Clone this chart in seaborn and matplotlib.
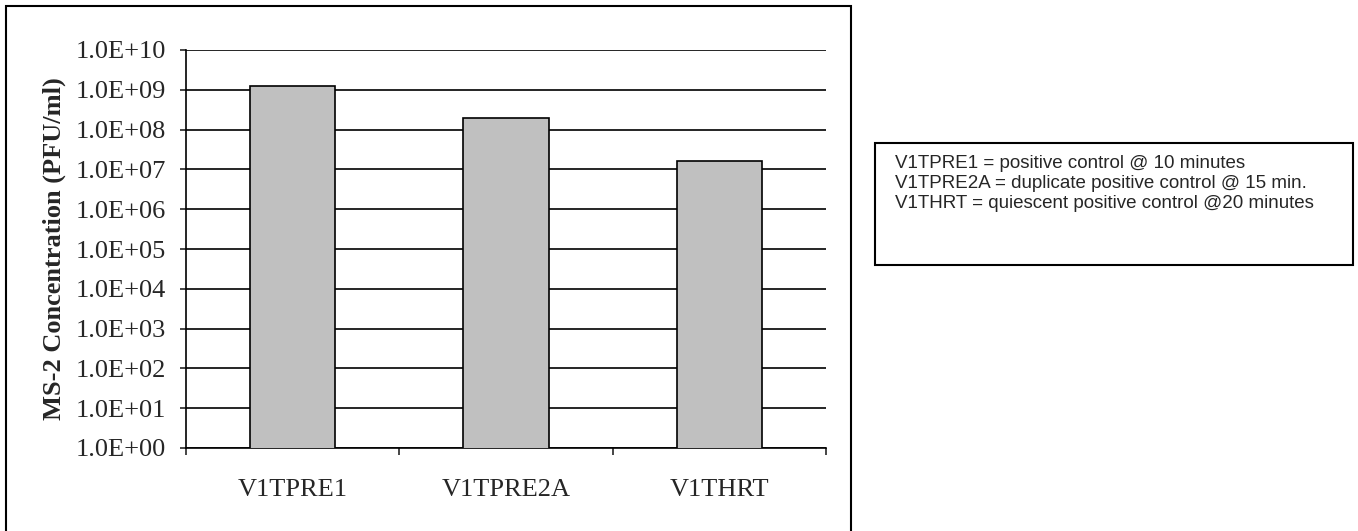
import matplotlib
matplotlib.use("Agg")
import matplotlib.pyplot as plt
import matplotlib.ticker as mticker
from matplotlib.patches import Rectangle
import seaborn as sns
import pandas as pd

# dados
amostras = ['V1TPRE1', 'V1TPRE2A', 'V1THRT']
concentracao = [1.26e9, 2.0e8, 1.6e7]
legenda = ['V1TPRE1 = positive control @ 10 minutes',
           'V1TPRE2A = duplicate positive control @ 15 min.',
           'V1THRT = quiescent positive control @20 minutes']

df = pd.DataFrame({'amostra': amostras, 'conc': concentracao})

sns.set_style('white')
plt.rcParams['font.family'] = ['Liberation Serif', 'DejaVu Serif']

fig = plt.figure(figsize=(13.58, 5.31), dpi=100)
ax = fig.add_axes([186/1358, 1 - 448/531, 640/1358, 398/531])
ax.set_yscale('log')

sns.barplot(data=df, x='amostra', y='conc', ax=ax, color='#C0C0C0',
            edgecolor='black', linewidth=1.2, width=0.4, saturation=1, zorder=3)

ax.set_ylim(1, 1e10)
ax.set_xlim(-0.5, 2.5)
ax.yaxis.set_major_locator(mticker.LogLocator(base=10, numticks=20))
ax.yaxis.set_minor_locator(mticker.NullLocator())
ax.yaxis.set_major_formatter(mticker.FuncFormatter(lambda v, p: f'{v:.1E}'))
ax.grid(True, axis='y', color='black', linewidth=1.2, zorder=0)
ax.set_axisbelow(True)

# ticks do eixo x nas divisões das categorias
ax.set_xticks([0, 1, 2])
ax.set_xticklabels(amostras)
ax.set_xticks([-0.5, 0.5, 1.5, 2.5], minor=True)
ax.tick_params(axis='x', which='major', length=0, labelsize=19, pad=22)
ax.tick_params(axis='x', which='minor', length=5, width=1.2, direction='out', bottom=True)
ax.tick_params(axis='y', which='major', length=4.5, width=1.2, direction='out', left=True,
               labelsize=19, pad=10)

for s in ['top', 'right']:
    ax.spines[s].set_visible(False)
for s in ['left', 'bottom']:
    ax.spines[s].set_color('black')
    ax.spines[s].set_linewidth(1.2)

ax.set_xlabel('')
ax.set_ylabel('MS-2 Concentration (PFU/ml)', fontsize=19, fontweight='bold', labelpad=7)

# moldura do gráfico (borda inferior cortada) e caixa de texto
fig.patches.append(Rectangle((5.5/1358, 1 - 534/531), 845/1358, 528/531, transform=fig.transFigure,
                             fill=False, edgecolor='black', linewidth=1.5))
fig.patches.append(Rectangle((875/1358, 1 - 265/531), 478/1358, 122/531, transform=fig.transFigure,
                             fill=False, edgecolor='black', linewidth=1.5))
for i, linha in enumerate(legenda):
    fig.text(895/1358, 1 - (163 + 20 * i)/531, linha, family=['Liberation Sans', 'DejaVu Sans'],
             fontsize=13.5, va='center', ha='left')

plt.savefig('out.png', dpi=100)
